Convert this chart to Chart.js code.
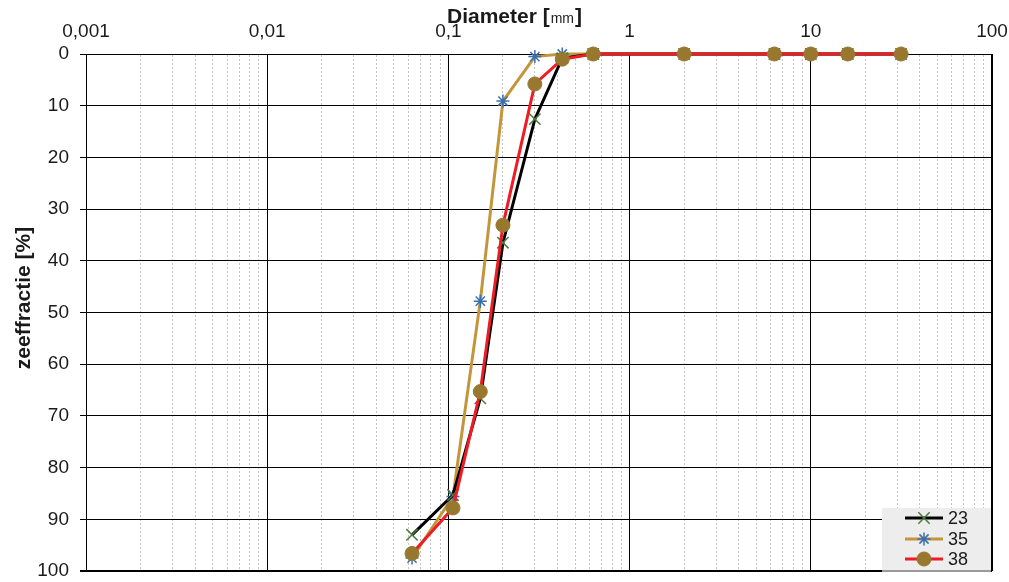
<!DOCTYPE html>
<html><head><meta charset="utf-8">
<script src="https://cdn.jsdelivr.net/npm/chart.js@4/dist/chart.umd.min.js"></script>
<style>html,body{margin:0;padding:0;background:#fff;overflow:hidden}</style>
</head><body>
<canvas id="c" width="1009" height="582"></canvas>
<script>
// ---- data ----
const sieveSizes = [0.063, 0.106, 0.15, 0.2, 0.3, 0.425, 0.63, 2, 6.3, 10, 16, 31.5];
const seriesNames = ['23', '35', '38'];
const values23 = [93.0, 85.3, 66.6, 36.5, 12.6, 0.8, 0, 0, 0, 0, 0, 0];
const values35 = [97.5, 85.6, 47.8, 9.1, 0.5, 0, 0, 0, 0, 0, 0, 0];
const values38 = [96.6, 87.8, 65.3, 33.1, 5.8, 1.0, 0, 0, 0, 0, 0, 0];
const xTickLabels = ['0,001', '0,01', '0,1', '1', '10', '100'];
const yTickValues = [0, 10, 20, 30, 40, 50, 60, 70, 80, 90, 100];
const xTitle = 'Diameter [';
const xTitleUnit = 'mm';
const yTitle = 'zeeffractie [%]';

// ---- helpers ----
const FONT = "'Liberation Sans', Arial, Helvetica, sans-serif";
Chart.defaults.font.family = FONT;
const xMin = 0.001, xMax = 100;
const xTickValues = [];
for (let e = -3; e < 2; e++) for (let s = 1; s <= 9; s++) xTickValues.push(+(s * Math.pow(10, e)).toPrecision(3));
xTickValues.push(100);
const isMajor = v => Math.abs(Math.log10(v) - Math.round(Math.log10(v))) < 1e-9;
const pts = arr => sieveSizes.map((x, i) => ({x, y: arr[i]}));

const legendPlugin = {
  id: 'boxLegend',
  afterDraw(chart) {
    const ctx = chart.ctx, a = chart.chartArea;
    const w = 109, h = 62;
    const bx = a.right - w - 1, by = a.bottom - h - 1;
    ctx.save();
    ctx.fillStyle = '#9a9a9a';
    ctx.fillRect(bx, by + 2, w, h);
    ctx.fillStyle = '#ededed';
    ctx.fillRect(bx, by, w, h);
    const rowY = [by + 10, by + 31, by + 51];
    [0, 1, 2].forEach((di, r) => {
      const ds = chart.data.datasets[di];
      const y = rowY[r];
      ctx.strokeStyle = ds.borderColor; ctx.lineWidth = ds.borderWidth;
      ctx.beginPath(); ctx.moveTo(bx + 23, y); ctx.lineTo(bx + 61, y); ctx.stroke();
      ctx.fillStyle = ds.pointBackgroundColor; ctx.strokeStyle = ds.pointBorderColor;
      ctx.lineWidth = ds.pointBorderWidth;
      Chart.helpers.drawPoint(ctx, {pointStyle: ds.pointStyle, radius: ds.pointRadius, rotation: 0, borderWidth: ds.pointBorderWidth}, bx + 42, y);
      ctx.fillStyle = '#1a1a1a'; ctx.font = '18px ' + FONT; ctx.textBaseline = 'middle'; ctx.textAlign = 'left';
      ctx.fillText(ds.label, bx + 66, y + 1);
    });
    ctx.restore();
  }
};

const titlePlugin = {
  id: 'titles',
  afterDraw(chart) {
    const ctx = chart.ctx, a = chart.chartArea;
    ctx.save();
    ctx.fillStyle = '#1a1a1a';
    ctx.textBaseline = 'alphabetic'; ctx.textAlign = 'left';
    let x = a.left + 361; const y = 23;
    ctx.font = 'bold 21px ' + FONT;
    ctx.fillText(xTitle, x, y); x += ctx.measureText(xTitle).width;
    ctx.font = '14px ' + FONT;
    ctx.fillText(xTitleUnit, x + 1, y); x += ctx.measureText(xTitleUnit).width + 2;
    ctx.font = 'bold 21px ' + FONT;
    ctx.fillText(']', x, y);
    ctx.translate(30, 298); ctx.rotate(-Math.PI / 2);
    ctx.textAlign = 'center';
    ctx.font = 'bold 21px ' + FONT;
    ctx.fillText(yTitle, 0, 0);
    ctx.restore();
  }
};

new Chart(document.getElementById('c'), {
  type: 'line',
  data: {
    datasets: [
      {label: seriesNames[0], data: pts(values23), borderColor: '#000000', borderWidth: 3,
       pointStyle: 'crossRot', pointRadius: 8, pointBorderColor: '#4d7a3a', pointBackgroundColor: '#4d7a3a', pointBorderWidth: 1.5,
       order: 1, clip: false, tension: 0},
      {label: seriesNames[1], data: pts(values35), borderColor: '#c4963c', borderWidth: 3,
       pointStyle: 'star', pointRadius: 6.5, pointBorderColor: '#3a6fae', pointBackgroundColor: '#3a6fae', pointBorderWidth: 1.5,
       order: 2, clip: false, tension: 0},
      {label: seriesNames[2], data: pts(values38), borderColor: '#ee1c24', borderWidth: 3,
       pointStyle: 'circle', pointRadius: 7, pointBorderColor: '#98772f', pointBackgroundColor: '#98772f', pointBorderWidth: 1,
       order: 0, clip: false, tension: 0}
    ]
  },
  options: {
    responsive: false, animation: false, devicePixelRatio: 1,
    layout: {padding: {top: 0, left: 0, right: 17, bottom: 11}},
    plugins: {legend: {display: false}, tooltip: {enabled: false}, title: {display: false}},
    scales: {
      x: {
        type: 'logarithmic', position: 'top', min: xMin, max: xMax,
        afterBuildTicks: s => { s.ticks = xTickValues.map(v => ({value: v})); },
        afterFit: s => { s.height = 54; s.paddingLeft = 0; s.paddingRight = 0; },
        ticks: {autoSkip: false, maxRotation: 0, padding: 11, color: '#1a1a1a', font: {size: 19},
          callback: v => isMajor(v) ? xTickLabels[Math.round(Math.log10(v)) + 3] : ''},
        grid: {drawTicks: false,
          color: c => (c.tick && isMajor(c.tick.value)) ? '#000000' : '#c4c4c4',
          lineWidth: c => (c.tick && c.tick.value === 100) ? 2 : 1},
        border: {color: '#000000', width: 1,
          dash: c => (c.tick && !isMajor(c.tick.value)) ? [2, 2] : []}
      },
      y: {
        min: 0, max: 100, reverse: true,
        afterBuildTicks: s => { s.ticks = yTickValues.map(v => ({value: v})); },
        afterFit: s => { s.width = 86; s.paddingTop = 0; s.paddingBottom = 0; },
        ticks: {padding: 11, color: '#1a1a1a', font: {size: 19}},
        grid: {color: '#000000', tickLength: 6, tickColor: '#000000',
          lineWidth: c => (c.tick && c.tick.value === 100) ? 2 : 1},
        border: {color: '#000000', width: 1}
      }
    }
  },
  plugins: [legendPlugin, titlePlugin]
});
</script>
</body></html>
